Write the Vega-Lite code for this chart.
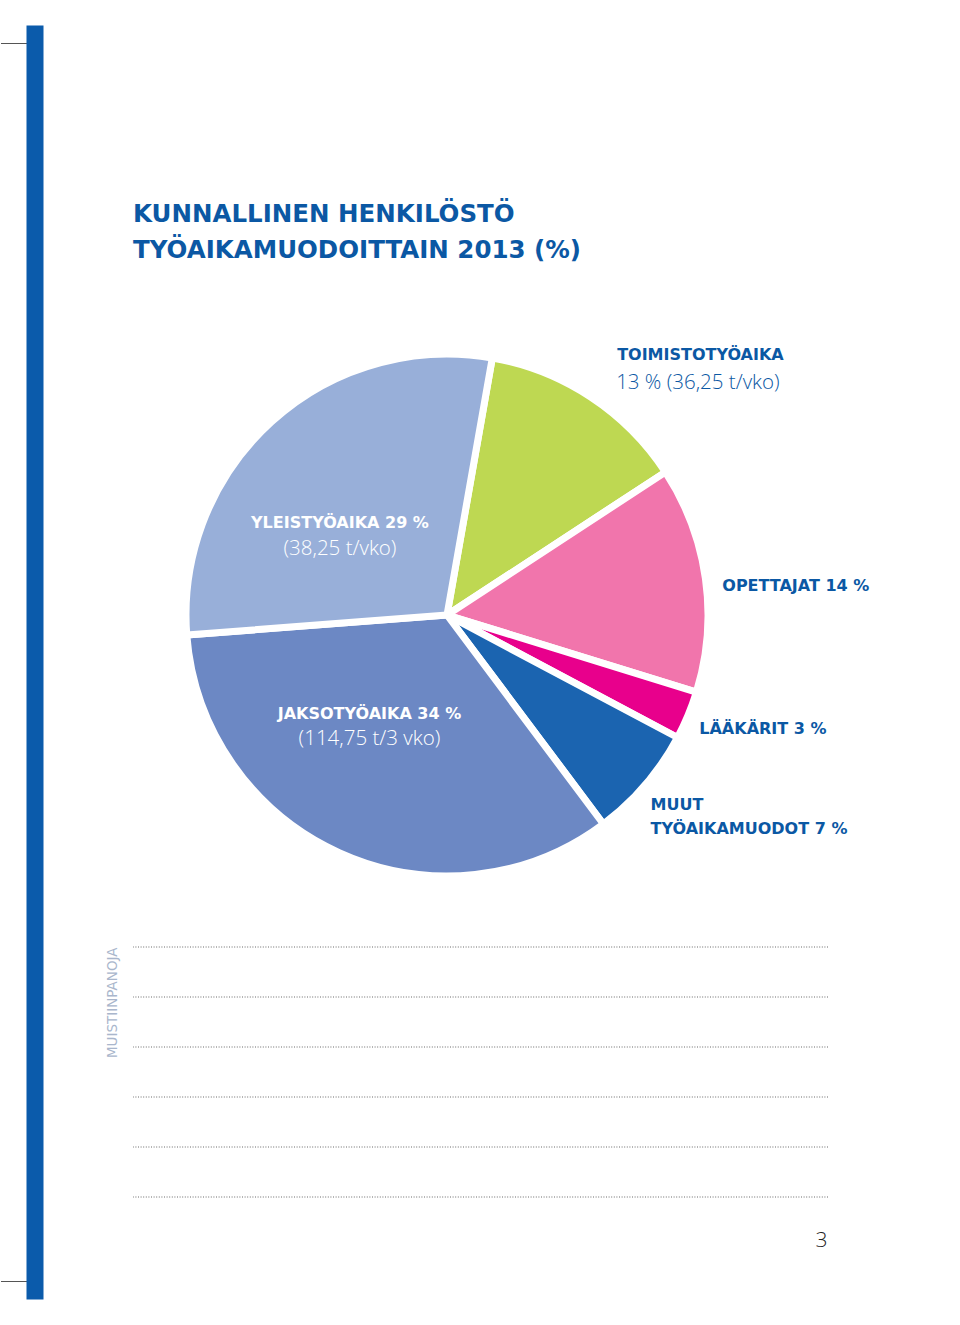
{
  "$schema": "https://vega.github.io/schema/vega-lite/v6.json",
  "padding": {"left": 0, "top": 42, "right": 0, "bottom": 0},
  "background": "white",
  "bounds": "flush",
  "spacing": 17,
  "config": {"view": {"stroke": null}},
  "vconcat": [
    {
      "width": 628,
      "height": 630,
      "title": {
        "text": ["KUNNALLINEN HENKILÖSTÖ", "TYÖAIKAMUODOITTAIN 2013 (%)"],
        "orient": "top",
        "anchor": "start",
        "frame": "group",
        "baseline": "top",
        "offset": 37,
        "lineHeight": 36,
        "font": "DejaVu Sans",
        "fontSize": 24.5,
        "fontWeight": "bold",
        "color": "#0b58a4"
      },
      "data": {
        "values": [
          {"tyoaika": "Toimistotyöaika", "osuus": 13, "jarjestys": 1, "rivi1": "TOIMISTOTYÖAIKA", "rivi2": "13 % (36,25 t/vko)"},
          {"tyoaika": "Opettajat", "osuus": 14, "jarjestys": 2, "rivi1": "OPETTAJAT 14 %", "rivi2": ""},
          {"tyoaika": "Lääkärit", "osuus": 3, "jarjestys": 3, "rivi1": "LÄÄKÄRIT 3 %", "rivi2": ""},
          {"tyoaika": "Muut työaikamuodot", "osuus": 7, "jarjestys": 4, "rivi1": "MUUT", "rivi2": "TYÖAIKAMUODOT 7 %"},
          {"tyoaika": "Jaksotyöaika", "osuus": 34, "jarjestys": 5, "rivi1": "JAKSOTYÖAIKA 34 %", "rivi2": "(114,75 t/3 vko)"},
          {"tyoaika": "Yleistyöaika", "osuus": 29, "jarjestys": 6, "rivi1": "YLEISTYÖAIKA 29 %", "rivi2": "(38,25 t/vko)"}
        ]
      },
      "layer": [
        {
          "mark": {"type": "arc", "outerRadius": 261, "stroke": "white", "strokeWidth": 7, "strokeJoin": "round"},
          "encoding": {
            "theta": {"field": "osuus", "type": "quantitative", "stack": true, "scale": {"range": [0.1745, 6.4577]}},
            "order": {"field": "jarjestys", "type": "quantitative"},
            "color": {
              "field": "tyoaika",
              "type": "nominal",
              "legend": null,
              "scale": {
                "domain": ["Toimistotyöaika", "Opettajat", "Lääkärit", "Muut työaikamuodot", "Jaksotyöaika", "Yleistyöaika"],
                "range": ["#bed852", "#f175ac", "#e8008c", "#1b64b0", "#6c88c4", "#98afd9"]
              }
            }
          }
        },
        {
          "mark": {"type": "text", "radius": 300, "dx": 5, "dy": -10, "align": "left", "baseline": "middle", "font": "DejaVu Sans", "fontSize": 16, "fontWeight": "bold", "color": "#0b58a4"},
          "encoding": {
            "theta": {"field": "osuus", "type": "quantitative", "stack": true},
            "order": {"field": "jarjestys", "type": "quantitative"},
            "text": {"condition": {"test": "datum.jarjestys === 1", "field": "rivi1"}, "value": ""}
          }
        },
        {
          "mark": {"type": "text", "radius": 300, "dx": 4, "dy": 18, "align": "left", "baseline": "middle", "font": "Open Sans", "fontSize": 20.5, "fontWeight": 300, "color": "#0b58a4"},
          "encoding": {
            "theta": {"field": "osuus", "type": "quantitative", "stack": true},
            "order": {"field": "jarjestys", "type": "quantitative"},
            "text": {"condition": {"test": "datum.jarjestys === 1", "field": "rivi2"}, "value": ""}
          }
        },
        {
          "mark": {"type": "text", "radius": 280, "dx": -2, "dy": 10, "align": "left", "baseline": "middle", "font": "DejaVu Sans", "fontSize": 16, "fontWeight": "bold", "color": "#0b58a4"},
          "encoding": {
            "theta": {"field": "osuus", "type": "quantitative", "stack": true},
            "order": {"field": "jarjestys", "type": "quantitative"},
            "text": {"condition": {"test": "datum.jarjestys === 2", "field": "rivi1"}, "value": ""}
          }
        },
        {
          "mark": {"type": "text", "radius": 270, "dx": 3, "dy": 10, "align": "left", "baseline": "middle", "font": "DejaVu Sans", "fontSize": 16, "fontWeight": "bold", "color": "#0b58a4"},
          "encoding": {
            "theta": {"field": "osuus", "type": "quantitative", "stack": true},
            "order": {"field": "jarjestys", "type": "quantitative"},
            "text": {"condition": {"test": "datum.jarjestys === 3", "field": "rivi1"}, "value": ""}
          }
        },
        {
          "mark": {"type": "text", "radius": 280, "dx": -9, "dy": 8, "align": "left", "baseline": "middle", "font": "DejaVu Sans", "fontSize": 16, "fontWeight": "bold", "color": "#0b58a4"},
          "encoding": {
            "theta": {"field": "osuus", "type": "quantitative", "stack": true},
            "order": {"field": "jarjestys", "type": "quantitative"},
            "text": {"condition": {"test": "datum.jarjestys === 4", "field": "rivi1"}, "value": ""}
          }
        },
        {
          "mark": {"type": "text", "radius": 280, "dx": -9, "dy": 32, "align": "left", "baseline": "middle", "font": "DejaVu Sans", "fontSize": 16, "fontWeight": "bold", "color": "#0b58a4"},
          "encoding": {
            "theta": {"field": "osuus", "type": "quantitative", "stack": true},
            "order": {"field": "jarjestys", "type": "quantitative"},
            "text": {"condition": {"test": "datum.jarjestys === 4", "field": "rivi2"}, "value": ""}
          }
        },
        {
          "mark": {"type": "text", "radius": 120, "dx": -28, "dy": -10, "align": "center", "baseline": "middle", "font": "DejaVu Sans", "fontSize": 16, "fontWeight": "bold", "color": "white"},
          "encoding": {
            "theta": {"field": "osuus", "type": "quantitative", "stack": true},
            "order": {"field": "jarjestys", "type": "quantitative"},
            "text": {"condition": {"test": "datum.jarjestys === 5", "field": "rivi1"}, "value": ""}
          }
        },
        {
          "mark": {"type": "text", "radius": 120, "dx": -28, "dy": 15, "align": "center", "baseline": "middle", "font": "Open Sans", "fontSize": 20.5, "fontWeight": 300, "color": "white"},
          "encoding": {
            "theta": {"field": "osuus", "type": "quantitative", "stack": true},
            "order": {"field": "jarjestys", "type": "quantitative"},
            "text": {"condition": {"test": "datum.jarjestys === 5", "field": "rivi2"}, "value": ""}
          }
        },
        {
          "mark": {"type": "text", "radius": 140, "dx": -13, "dy": 12, "align": "center", "baseline": "middle", "font": "DejaVu Sans", "fontSize": 16, "fontWeight": "bold", "color": "white"},
          "encoding": {
            "theta": {"field": "osuus", "type": "quantitative", "stack": true},
            "order": {"field": "jarjestys", "type": "quantitative"},
            "text": {"condition": {"test": "datum.jarjestys === 6", "field": "rivi1"}, "value": ""}
          }
        },
        {
          "mark": {"type": "text", "radius": 140, "dx": -13, "dy": 38, "align": "center", "baseline": "middle", "font": "Open Sans", "fontSize": 20.5, "fontWeight": 300, "color": "white"},
          "encoding": {
            "theta": {"field": "osuus", "type": "quantitative", "stack": true},
            "order": {"field": "jarjestys", "type": "quantitative"},
            "text": {"condition": {"test": "datum.jarjestys === 6", "field": "rivi2"}, "value": ""}
          }
        }
      ]
    },
    {
      "width": 695,
      "height": 250,
      "data": {"values": [{"rivi": 1}, {"rivi": 2}, {"rivi": 3}, {"rivi": 4}, {"rivi": 5}, {"rivi": 6}]},
      "layer": [
        {
          "mark": {"type": "rule", "color": "#6b6b6b", "strokeWidth": 1, "strokeDash": [1, 1.6]},
          "encoding": {
            "y": {
              "field": "rivi",
              "type": "quantitative",
              "scale": {"domain": [-1.04, 24.44], "range": [352, -922], "nice": false, "zero": false},
              "axis": {
                "orient": "left",
                "offset": 98.5,
                "domain": true,
                "domainWidth": 17,
                "domainColor": "#0b5bab",
                "domainCap": "butt",
                "ticks": true,
                "values": [-0.68, 24.08],
                "tickSize": 34,
                "tickWidth": 1,
                "tickColor": "#555555",
                "labels": false,
                "grid": false,
                "title": "MUISTIINPANOJA",
                "titleX": 85,
                "titleY": 0,
                "titleAngle": -90,
                "titleAlign": "right",
                "titleBaseline": "bottom",
                "titleFont": "DejaVu Sans",
                "titleFontSize": 13.5,
                "titleFontWeight": "normal",
                "titleColor": "#a9b6cc"
              }
            }
          }
        },
        {
          "mark": {"type": "text", "align": "right", "baseline": "middle", "dx": 347, "dy": 44, "font": "Open Sans", "fontSize": 21, "fontWeight": 300, "color": "#222222"},
          "encoding": {
            "y": {
              "field": "rivi",
              "type": "quantitative",
              "scale": {"domain": [-1.04, 24.44], "range": [352, -922], "nice": false, "zero": false},
              "axis": {
                "orient": "left",
                "offset": 98.5,
                "domain": true,
                "domainWidth": 17,
                "domainColor": "#0b5bab",
                "domainCap": "butt",
                "ticks": true,
                "values": [-0.68, 24.08],
                "tickSize": 34,
                "tickWidth": 1,
                "tickColor": "#555555",
                "labels": false,
                "grid": false,
                "title": "MUISTIINPANOJA",
                "titleX": 85,
                "titleY": 0,
                "titleAngle": -90,
                "titleAlign": "right",
                "titleBaseline": "bottom",
                "titleFont": "DejaVu Sans",
                "titleFontSize": 13.5,
                "titleFontWeight": "normal",
                "titleColor": "#a9b6cc"
              }
            },
            "text": {"condition": {"test": "datum.rivi === 1", "value": "3"}, "value": ""}
          }
        }
      ]
    }
  ]
}
